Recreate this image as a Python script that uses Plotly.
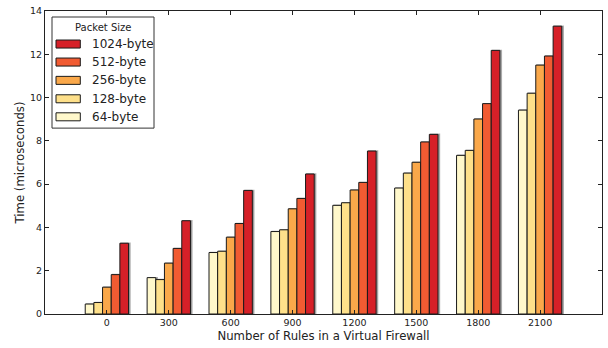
import plotly.graph_objects as go

rules = [0, 300, 600, 900, 1200, 1500, 1800, 2100]
series_names = ["64-byte", "128-byte", "256-byte", "512-byte", "1024-byte"]
t64 = [0.46, 1.68, 2.84, 3.81, 5.02, 5.82, 7.33, 9.42]
t128 = [0.53, 1.59, 2.90, 3.89, 5.14, 6.51, 7.56, 10.20]
t256 = [1.24, 2.35, 3.55, 4.86, 5.73, 7.01, 9.01, 11.50]
t512 = [1.82, 3.03, 4.18, 5.34, 6.08, 7.95, 9.72, 11.92]
t1024 = [3.27, 4.31, 5.71, 6.47, 7.53, 8.30, 12.18, 13.30]
values = [t64, t128, t256, t512, t1024]
colors = ["#FFF8CB", "#FEE08A", "#FAA84A", "#F15B32", "#D62028"]

W, H = 608, 348
L, R, T, B = 45, 6, 11, 34.3
pw, ph = W - L - R, H - T - B

def px(x):
    return (x - L) / pw

def py(y):
    return (H - B - y) / ph

bar_w = 42
font = "DejaVu Sans"

fig = go.Figure()
# shadows
for i, vals in enumerate(values):
    fig.add_trace(go.Bar(
        x=rules, y=vals, width=bar_w, offset=(i - 2.5) * bar_w + 7,
        marker=dict(color="rgba(120,120,120,0.55)", line=dict(color="rgba(120,120,120,0.55)", width=1.5)),
        showlegend=False, hoverinfo="skip"))
for i, vals in enumerate(values):
    fig.add_trace(go.Bar(
        x=rules, y=vals, width=bar_w, offset=(i - 2.5) * bar_w,
        name=series_names[i],
        marker=dict(color=colors[i], line=dict(color="#1a1a1a", width=1)),
        showlegend=False))

axis_common = dict(showline=True, linecolor="#222", linewidth=1, mirror="ticks",
                   ticks="inside", ticklen=4, tickcolor="#222", showgrid=False, zeroline=False,
                   ticklabeloverflow="allow",
                   tickfont=dict(family=font, size=9.5, color="#222"))
fig.update_layout(
    width=W, height=H, margin=dict(l=L, r=R, t=T, b=B),
    paper_bgcolor="white", plot_bgcolor="white", barmode="overlay",
    font=dict(family=font),
    xaxis=dict(range=[-300, 2400], tickvals=rules, ticktext=[str(r) for r in rules],
               title=dict(text="Number of Rules in a Virtual Firewall", standoff=4,
                          font=dict(family=font, size=11.7, color="#222")),
               **axis_common),
    yaxis=dict(range=[0, 14], tickvals=[0, 2, 4, 6, 8, 10, 12, 14],
               title=dict(text="Time (microseconds)", standoff=2,
                          font=dict(family=font, size=11.7, color="#222")),
               **axis_common),
)

# custom legend
shapes = [dict(type="rect", xref="paper", yref="paper", x0=px(52), x1=px(154), y0=py(128), y1=py(17),
               line=dict(color="#333", width=1), fillcolor="white", layer="above")]
annotations = [dict(text="Packet Size", xref="paper", yref="paper", x=px(103), y=py(27),
                    showarrow=False, xanchor="center", yanchor="middle",
                    font=dict(family=font, size=10, color="#222"))]
row_y = [44, 62, 80.3, 98.7, 116.7]
for k, idx in enumerate([4, 3, 2, 1, 0]):
    yc = row_y[k]
    shapes.append(dict(type="rect", xref="paper", yref="paper", x0=px(56), x1=px(80.3),
                       y0=py(yc + 4), y1=py(yc - 4), fillcolor=colors[idx],
                       line=dict(color="#1a1a1a", width=1), layer="above"))
    annotations.append(dict(text=series_names[idx], xref="paper", yref="paper", x=px(90), y=py(yc),
                            showarrow=False, xanchor="left", yanchor="middle",
                            font=dict(family=font, size=12, color="#222")))
fig.update_layout(shapes=shapes, annotations=annotations)

fig.write_html("out.html", config={"displayModeBar": False},
               post_script="document.body.style.margin='0';document.body.style.padding='0';")
